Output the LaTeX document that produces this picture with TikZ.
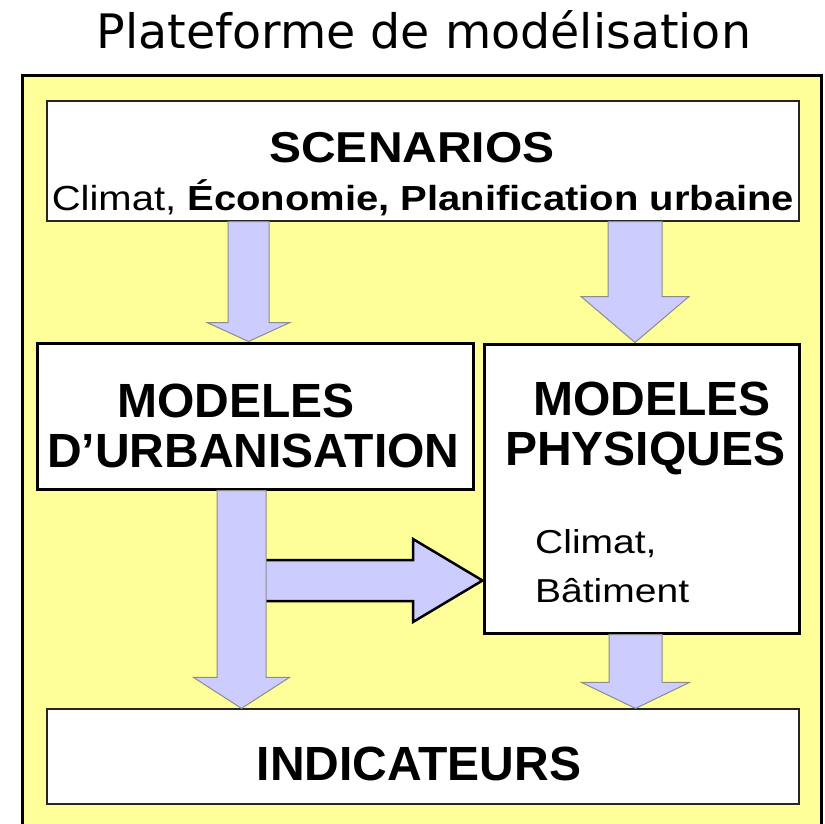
\documentclass[tikz,border=0pt]{standalone}
\usepackage{fontspec}
\setmainfont{Liberation Sans}
\newfontfamily\titlefont{DejaVu Sans}
\usepackage{tikz}
\usetikzlibrary{calc,positioning}
\usepackage{xcolor}
\definecolor{platyellow}{RGB}{255,255,153}
\definecolor{arrowblue}{RGB}{204,204,255}
\definecolor{arrowgray}{RGB}{140,140,140}
\tikzstyle{frame} = [draw=black, line width=3pt, fill=platyellow]
\tikzstyle{thinbox} = [draw=black!85, line width=1.2pt, fill=white]
\tikzstyle{thickbox} = [draw=black, line width=3pt, fill=white]
\tikzstyle{blockarrow} = [fill=arrowblue, draw=arrowgray, line width=1pt]
\tikzstyle{sidearrow} = [fill=arrowblue, draw=black, line width=2.5pt]
\tikzstyle{txt} = [anchor=base west, inner sep=0pt]

% down block arrow: from node, to node, x, shaft half width, head half width, head length
\newcommand{\downblock}[6]{%
  \filldraw[blockarrow] let \p1=(#1.south), \p2=(#2.north) in
    (#3-#4,\y1) -- (#3+#4,\y1) -- (#3+#4,\y2+#6) -- (#3+#5,\y2+#6)
    -- (#3,\y2) -- (#3-#5,\y2+#6) -- (#3-#4,\y2+#6) -- cycle;}
% text squeezed a little in height
\newcommand{\squeeze}[2]{\scalebox{1}[#1]{#2}}

\begin{document}
\begin{tikzpicture}[x=1pt, y=-1pt]
\useasboundingbox (0,0) rectangle (825,824);

% Title
\node[anchor=base, inner sep=0pt, font=\titlefont\fontsize{47.5}{48}\selectfont] (title) at (424,49) {Plateforme de mod\'elisation};

% Platform frame
\node[frame, minimum width=799pt, minimum height=760pt, inner sep=0pt] (plat) at (421.5,456) {};

% Boxes
\node[thinbox, minimum width=752pt, minimum height=120pt, inner sep=0pt] (scen) at (423,161) {};
\node[thickbox, minimum width=436pt, minimum height=146pt, inner sep=0pt] (urb) at (255,416) {};
\node[thickbox, minimum width=315pt, minimum height=289pt, inner sep=0pt] (phys) at (641.5,488.5) {};
\node[thinbox, minimum width=752pt, minimum height=95pt, inner sep=0pt] (ind) at (423,756.5) {};

% Texts
\node[anchor=base, inner sep=0pt, font=\bfseries\fontsize{48}{48}\selectfont] (scenname) at (412,163) {\squeeze{0.9}{SCENARIOS}};
\node[anchor=base, inner sep=0pt, font=\fontsize{40}{40}\selectfont] (scensub) at (423,210) {\squeeze{0.87}{Climat, \textbf{\'Economie, Planification urbaine}}};
\node[txt, font=\bfseries\fontsize{48}{48}\selectfont] (urbname1) at (117,417) {MODELES};
\node[txt, font=\bfseries\fontsize{48}{48}\selectfont] (urbname2) at (47,467) {D'URBANISATION};
\node[txt, font=\bfseries\fontsize{48}{48}\selectfont] (physname1) at (533,415) {MODELES};
\node[txt, font=\bfseries\fontsize{48}{48}\selectfont] (physname2) at (505,465) {PHYSIQUES};
\node[txt, font=\fontsize{39}{39}\selectfont] (physsub1) at (535,553) {\squeeze{0.85}{Climat,}};
\node[txt, font=\fontsize{39}{39}\selectfont] (physsub2) at (535,602) {\squeeze{0.85}{B\^atiment}};
\node[anchor=base, inner sep=0pt, font=\bfseries\fontsize{48}{48}\selectfont] (indname) at (419,780) {INDICATEURS};

% Arrows
\coordinate (split) at (266,580.5);
\filldraw[sidearrow] let \p1=(split), \p2=(phys.west) in
  (\x1,\y1-20.5pt) -- (413,\y1-20.5pt) -- (413,\y1-41.5pt) -- (\x2,\y1)
  -- (413,\y1+41.5pt) -- (413,\y1+20.5pt) -- (\x1,\y1+20.5pt);
\downblock{scen}{urb}{248.5}{20.5}{41.5}{19pt}
\downblock{scen}{phys}{635}{27}{54}{46pt}
\downblock{urb}{ind}{241.5}{24.5}{48}{31pt}
\downblock{phys}{ind}{635.5}{26.5}{54}{26pt}
\end{tikzpicture}
\end{document}
